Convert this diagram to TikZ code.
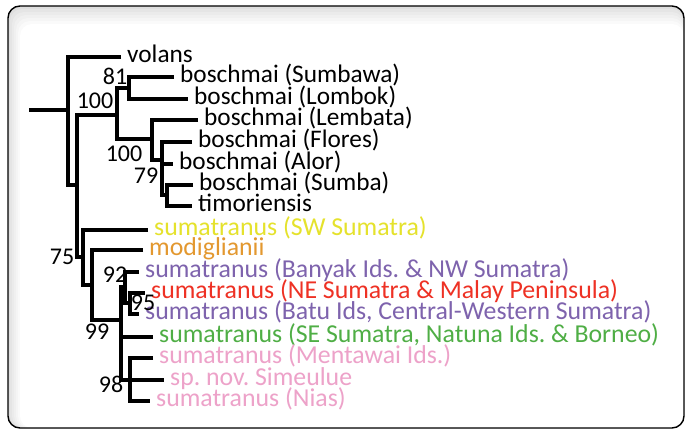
\documentclass[tikz,border=0pt]{standalone}
\usepackage{fontspec}
\setmainfont{Carlito}
\usepackage{graphicx}
\usepackage{xcolor}
\usepackage{tikz}
\usetikzlibrary{positioning,calc}
\frenchspacing

\definecolor{tipyellow}{HTML}{E5E22C}
\definecolor{tiporange}{HTML}{E3982F}
\definecolor{tippurple}{HTML}{7E63AD}
\definecolor{tipred}{HTML}{EE3124}
\definecolor{tipgreen}{HTML}{4FAE45}
\definecolor{tippink}{HTML}{EDA2C9}

\begin{document}
\begin{tikzpicture}[x=1pt, y=-1pt,
  br/.style={line width=3.2pt, line join=miter, line cap=butt},
  leaf/.style={anchor=west, inner xsep=6pt, inner ysep=0pt,
    text height=14pt, text depth=3pt,
    font=\fontsize{25.3}{26}\selectfont},
  clade/.style={leaf, font=\fontsize{25.8}{26}\selectfont},
  bs/.style={inner sep=0pt, font=\fontsize{24}{25}\selectfont}]
  \useasboundingbox (0,0) rectangle (685,430);
  % Panel with soft inner shadow
  \foreach \k/\c in {0/13,1/10,2/8,3/6,4/4,5/2,6/0}
    \fill[black!\c, rounded corners=12pt] (8+2*\k,6+3*\k) rectangle (684,428);
  \draw[line width=1.4pt, rounded corners=12pt] (8,6) rectangle (684,428);
  % Leaves
  \node[leaf] (volans)   at (121,57)  {volans};
  \node[leaf] (sumbawa)  at (174,77)  {boschmai (Sumbawa)};
  \node[leaf] (lombok)   at (188,99)  {boschmai (Lombok)};
  \node[leaf] (lembata)  at (198,120) {boschmai (Lembata)};
  \node[leaf] (flores)   at (192,142) {boschmai (Flores)};
  \node[leaf] (alor)     at (173,164) {boschmai (Alor)};
  \node[leaf] (sumba)    at (193,185) {boschmai (Sumba)};
  \node[leaf] (timor)    at (192,206) {timoriensis};
  \node[clade, tipyellow] (swsum)    at (148,230) {sumatranus (SW Sumatra)};
  \node[clade, tiporange] (modig)    at (143,250) {modiglianii};
  \node[clade, tippurple] (banyak)   at (139,272) {sumatranus (Banyak Ids. \& NW Sumatra)};
  \node[clade, tipred]    (nesum)    at (145,293) {sumatranus (NE Sumatra \& Malay Peninsula)};
  \node[clade, tippurple] (batu)     at (139,314) {sumatranus (Batu Ids, Central-Western Sumatra)};
  \node[clade, tipgreen]  (sesum)    at (153,337) {sumatranus (SE Sumatra, Natuna Ids. \& Borneo)};
  \node[clade, tippink]   (mentawai) at (153,358) {sumatranus (Mentawai Ids.)};
  \node[clade, tippink]   (simeulue) at (164,380) {sp. nov. Simeulue};
  \node[clade, tippink]   (nias)     at (150,401) {sumatranus (Nias)};
  % Internal nodes
  \coordinate (root) at (29,110);
  \coordinate (nA)  at (68,110);
  \coordinate (nB)  at (77,185);
  \coordinate (nC)  at (117,115);
  \coordinate (n81) at (129,88);
  \coordinate (nE)  at (152,139);
  \coordinate (nF)  at (162,160);
  \coordinate (nG)  at (167,195);
  \coordinate (nD)  at (83,257);
  \coordinate (nI)  at (92,285);
  \coordinate (nJ)  at (121,320);
  \coordinate (nK)  at (125,287);
  \coordinate (nL)  at (130,303);
  \coordinate (nM)  at (130,380);
  % Branches
  \draw[br] (root) -- (nA);
  \draw[br] (volans) -| (nA) |- (nB);
  \draw[br] (nC) -| (nB) |- (nD);
  \draw[br] (n81) -| (nC) |- (nE);
  \draw[br] (sumbawa) -| (n81) |- (lombok);
  \draw[br] (lembata) -| (nE) |- (nF);
  \draw[br] (flores) -| (nF) |- (nG);
  \draw[br] (nF |- alor) -- (alor);
  \draw[br] (sumba) -| (nG) |- (timor);
  \draw[br] (swsum) -| (nD) |- (nI);
  \draw[br] (modig) -| (nI) |- (nJ);
  \draw[br] (nK) -| (nJ) |- (nM);
  \draw[br] (nJ |- sesum) -- (sesum);
  \draw[br] (banyak) -| (nK) |- (nL);
  \draw[br] (nesum) -| (nL) |- (batu);
  \draw[br] (mentawai) -| (nM) |- (nias);
  \draw[br] (nM |- simeulue) -- (simeulue);
  % Support values
  \node[bs] (bsA) at (115,76)  {81};
  \node[bs] (bsB) at (95,101)  {100};
  \node[bs] (bsC) at (124,154) {100};
  \node[bs] (bsD) at (146,176) {79};
  \node[bs] (bsE) at (62,257)  {75};
  \node[bs] (bsF) at (115,275) {92};
  \node[bs] (bsG) at (143,303) {95};
  \node[bs] (bsH) at (97,332)  {99};
  \node[bs] (bsI) at (111,384) {98};
\end{tikzpicture}
\end{document}
